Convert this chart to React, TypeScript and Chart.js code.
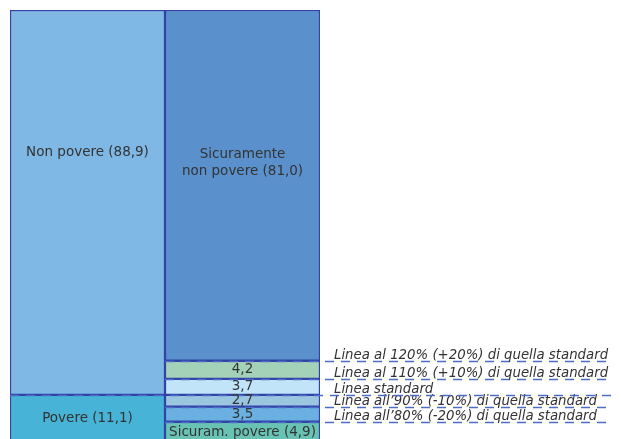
import React, { useEffect, useRef } from "react";
import { Chart, registerables } from "chart.js";

Chart.register(...registerables);

const categories = ["Linea standard", "Linee alternative"];
const leftLabels = ["Povere (11,1)", "Non povere (88,9)"];
const leftValues = [11.1, 88.9];
const rightLabels = ["Sicuram. povere (4,9)", "3,5", "2,7", "3,7", "4,2", "Sicuramente\nnon povere (81,0)"];
const rightValues = [4.9, 3.5, 2.7, 3.7, 4.2, 81.0];
const lineLabels = [
  "Linea all’80% (-20%) di quella standard",
  "Linea all’90% (-10%) di quella standard",
  "Linea standard",
  "Linea al 110% (+10%) di quella standard",
  "Linea al 120% (+20%) di quella standard",
];

const leftColors = ["#47b3d6", "#7fb8e4"];
const rightColors = ["#69c3b4", "#6ab1e2", "#9bc6e0", "#c1e4f9", "#a4d2b9", "#5a91cc"];
const BORDER = "#3243a4";
const DASH = "#4c6ccc";
const TEXT = "#333333";
const FONT = "'DejaVu Sans', sans-serif";

// optional label anchor (value on y axis) for large segments
const labelAnchor: Record<string, number> = {
  "Non povere (88,9)": 67.0,
  "Sicuramente\nnon povere (81,0)": 64.6,
};

const overlayPlugin = {
  id: "overlay",
  afterDatasetsDraw(chart: any) {
    const { ctx, chartArea, scales } = chart;
    const y = scales.y;
    const rightMeta = chart.getDatasetMeta(leftValues.length);
    const rEl = rightMeta.data[1];
    const rightLeft = rEl.x - rEl.width / 2;
    const endX = chart.width - 2;

    let cum = 0;
    ctx.save();
    for (let i = 0; i < lineLabels.length; i++) {
      cum += rightValues[i];
      const py = Math.round(y.getPixelForValue(cum)) + 0.5;
      const startX = lineLabels[i] === "Linea standard" ? chartArea.left : rightLeft;
      ctx.setLineDash([9, 7]);
      ctx.strokeStyle = DASH;
      ctx.lineWidth = 1.5;
      ctx.beginPath();
      ctx.moveTo(startX, py);
      ctx.lineTo(endX, py);
      ctx.stroke();
      ctx.setLineDash([]);
      ctx.fillStyle = TEXT;
      ctx.font = `italic 13.3px ${FONT}`;
      ctx.textAlign = "left";
      ctx.textBaseline = "alphabetic";
      ctx.fillText(lineLabels[i], chartArea.right + 14, py - 3);
    }
    ctx.restore();

    ctx.save();
    ctx.fillStyle = TEXT;
    ctx.font = `13.5px ${FONT}`;
    ctx.textAlign = "center";
    ctx.textBaseline = "middle";
    chart.data.datasets.forEach((ds: any, di: number) => {
      const meta = chart.getDatasetMeta(di);
      meta.data.forEach((el: any, idx: number) => {
        const v = ds.data[idx];
        if (v == null) return;
        const text: string = ds.label;
        const cx = el.x;
        const cy = labelAnchor[text] != null ? y.getPixelForValue(labelAnchor[text]) : (el.y + el.base) / 2;
        const lines = text.split("\n");
        const lh = 17;
        lines.forEach((ln, k) => {
          ctx.fillText(ln, cx, cy + (k - (lines.length - 1) / 2) * lh);
        });
      });
    });
    ctx.restore();
  },
};

export default function App() {
  const ref = useRef<HTMLCanvasElement | null>(null);
  useEffect(() => {
    document.documentElement.style.overflow = "hidden";
    document.body.style.overflow = "hidden";
    const datasets: any[] = [];
    leftValues.forEach((v, i) => {
      datasets.push({
        label: leftLabels[i],
        data: [v, null],
        backgroundColor: leftColors[i],
        borderColor: BORDER,
        borderWidth: 1.5,
        borderSkipped: false,
      });
    });
    rightValues.forEach((v, i) => {
      datasets.push({
        label: rightLabels[i],
        data: [null, v],
        backgroundColor: rightColors[i],
        borderColor: BORDER,
        borderWidth: 1.5,
        borderSkipped: false,
      });
    });
    const chart = new Chart(ref.current!, {
      type: "bar",
      data: { labels: categories, datasets },
      options: {
        responsive: false,
        animation: false,
        layout: { padding: { left: 2, top: 2, bottom: 2, right: 301 } },
        datasets: { bar: { barPercentage: 1, categoryPercentage: 1 } } as any,
        plugins: { legend: { display: false }, tooltip: { enabled: false } },
        scales: {
          x: { stacked: true, display: false },
          y: { stacked: true, display: false, min: 0, max: 100 },
        },
      },
      plugins: [overlayPlugin],
    });
    return () => chart.destroy();
  }, []);
  return (
    <div style={{ width: 613, height: 437 }}>
      <canvas ref={ref} width={613} height={437} style={{ display: "block" }} />
    </div>
  );
}
